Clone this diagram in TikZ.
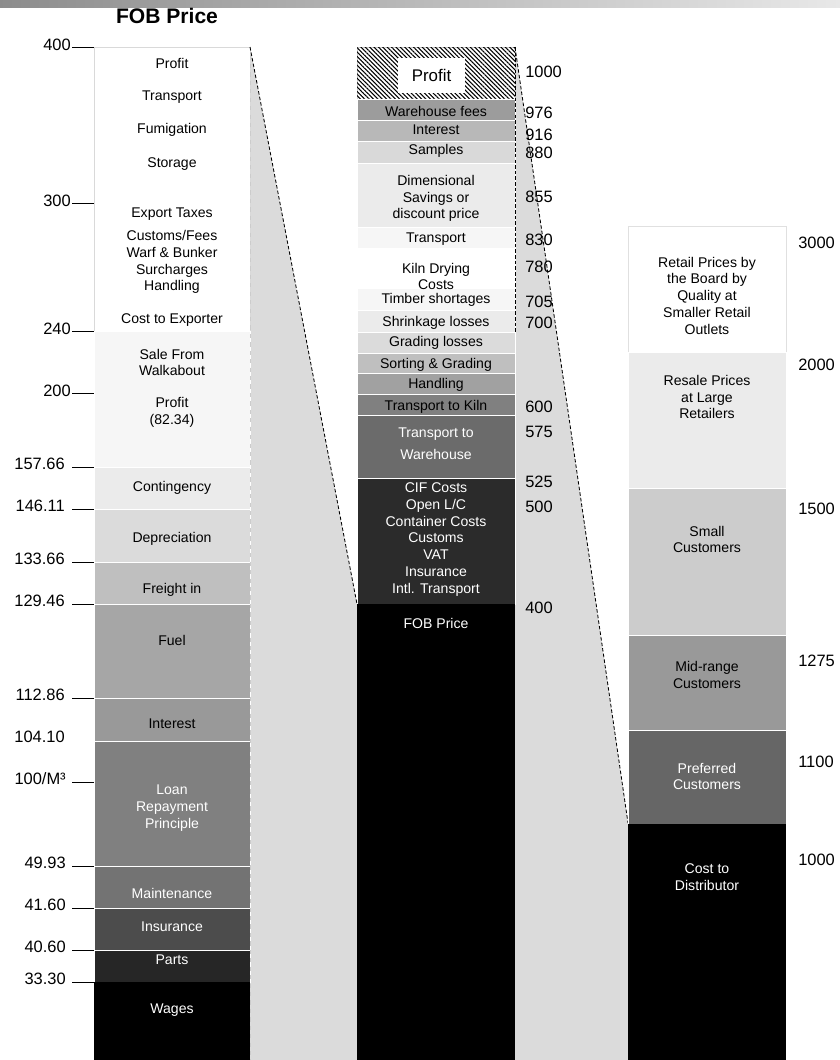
\documentclass[tikz,border=0pt]{standalone}
\usepackage{fontspec}
\setmainfont{Liberation Sans}
\usetikzlibrary{patterns.meta}
\tikzset{seg/.style={draw=white,line width=.6pt},
 lab/.style={font=\fontsize{10}{11.9}\selectfont,align=center,inner sep=0pt},
 wlab/.style={lab,text=white},
 num/.style={font=\fontsize{11.7}{14}\selectfont,inner sep=0pt},
 tickline/.style={line width=.7pt},
 slant/.style={dash pattern=on 2.5pt off 1.5pt,line width=.6pt},
 band/.style={fill=black!14}}
\begin{document}
\begin{tikzpicture}[x=0.025cm,y=-0.025cm]
\useasboundingbox (0,0) rectangle (840,1060);
\shade[left color=black!45,right color=black!9] (0,0) rectangle (840,7);
\node[font=\fontsize{15}{18}\selectfont\bfseries] (title) at (167,16) {FOB Price};
\coordinate (ltr) at (250,47);
\coordinate (mbl) at (357,604);
\coordinate (mtr) at (515,47);
\coordinate (mre) at (515,332);
\coordinate (rbl) at (628,823);
\fill[band] (ltr) -- (mbl) -- (357,1060) -- (250,1060) -- cycle;
\fill[band] (mtr) -- (rbl) -- (628,1060) -- (515,1060) -- cycle;
% left column: cost to exporter
\begin{scope}[shift={(94,0)}]
\filldraw[draw=black!15,fill=white] (0,47) rectangle (156,331);
\filldraw[seg,fill=black!3.5] (0,331) rectangle (156,467);
\filldraw[seg,fill=black!8] (0,467) rectangle (156,509);
\filldraw[seg,fill=black!14] (0,509) rectangle (156,562);
\filldraw[seg,fill=black!25] (0,562) rectangle (156,604);
\filldraw[seg,fill=black!35] (0,604) rectangle (156,698);
\filldraw[seg,fill=black!40] (0,698) rectangle (156,741);
\filldraw[seg,fill=black!50] (0,741) rectangle (156,866);
\filldraw[seg,fill=black!55] (0,866) rectangle (156,908);
\filldraw[seg,fill=black!70] (0,908) rectangle (156,950);
\filldraw[seg,fill=black!85] (0,950) rectangle (156,982);
\fill[black] (0,982) rectangle (156,1060);
\draw[dashed,black!20] (156,47) -- (156,1060);
\node[lab] (lprofit) at (78,63) {Profit};
\node[lab] (ltransport) at (78,97) {Transport};
\node[lab] (lfumigation) at (78,130) {Fumigation};
\node[lab] (lstorage) at (78,164) {Storage};
\node[lab] (ltaxes) at (78,214) {Export Taxes};
\node[lab] (lcustoms) at (78,262) {Customs/Fees\\Warf \& Bunker\\Surcharges\\Handling};
\node[lab] (lexporter) at (78,320) {Cost to Exporter};
\node[lab] (lsale) at (78,362.5) {Sale From\\Walkabout};
\node[lab] (lnet) at (78,412.5) {Profit\\(82.34)};
\node[lab] (lcontingency) at (78,488) {Contingency};
\node[lab] (ldepreciation) at (78,539) {Depreciation};
\node[lab] (lfreight) at (78,590) {Freight in};
\node[lab] (lfuel) at (78,640) {Fuel};
\node[lab] (linterest) at (78,724) {Interest};
\node[wlab] (lloan) at (78,808) {Loan\\Repayment\\Principle};
\node[wlab] (lmaintenance) at (78,893) {Maintenance};
\node[wlab] (linsurance) at (78,927) {Insurance};
\node[wlab] (lparts) at (78,960) {Parts};
\node[wlab] (lwages) at (78,1010) {Wages};
\end{scope}
% left ticks
\node[num,anchor=east] (t400) at (71,45) {400};
\node[num,anchor=east] (t300) at (71,201) {300};
\node[num,anchor=east] (t240) at (71,329) {240};
\node[num,anchor=east] (t200) at (71,391) {200};
\node[num,anchor=east] (t15766) at (65,464) {157.66};
\node[num,anchor=east] (t14611) at (65,506) {146.11};
\node[num,anchor=east] (t13366) at (65,559) {133.66};
\node[num,anchor=east] (t12946) at (65,601) {129.46};
\node[num,anchor=east] (t11286) at (65,695) {112.86};
\node[num,anchor=east] (t10410) at (65,737) {104.10};
\node[num,anchor=east] (t100) at (66,779) {100/M³};
\node[num,anchor=east] (t4993) at (66,863) {49.93};
\node[num,anchor=east] (t4160) at (66,905) {41.60};
\node[num,anchor=east] (t4060) at (66,947) {40.60};
\node[num,anchor=east] (t3330) at (66,979) {33.30};
\draw[tickline] (72,47) -- (94,47) (72,203) -- (94,203) (72,331) -- (94,331)
 (72,393) -- (94,393) (72,467) -- (94,467) (72,509) -- (94,509)
 (72,562) -- (94,562) (72,604) -- (94,604) (72,698) -- (94,698)
 (72,782) -- (94,782) (72,866) -- (94,866) (72,908) -- (94,908)
 (72,950) -- (94,950) (72,982) -- (94,982);
% middle column: cost to distributor
\begin{scope}[shift={(357,0)}]
\filldraw[draw=black!20,fill=white] (0,47) rectangle (158,99);
\fill[pattern={Lines[angle=-45,distance=2.2pt,line width=.75pt]}] (0,47) rectangle (158,99);
\node[fill=white,minimum width=1.675cm,minimum height=.875cm,inner sep=0pt,
 font=\fontsize{12}{14}\selectfont] (mprofit) at (74.5,75.5) {Profit};
\filldraw[seg,fill=black!39] (0,99) rectangle (158,120);
\filldraw[seg,fill=black!28] (0,120) rectangle (158,141);
\filldraw[seg,fill=black!15] (0,141) rectangle (158,163);
\filldraw[seg,fill=black!8] (0,163) rectangle (158,227);
\filldraw[seg,fill=black!3.5] (0,227) rectangle (158,248);
\filldraw[seg,fill=white] (0,248) rectangle (158,288);
\filldraw[seg,fill=black!3.5] (0,288) rectangle (158,310);
\filldraw[seg,fill=black!8] (0,310) rectangle (158,332);
\filldraw[seg,fill=black!14] (0,332) rectangle (158,353);
\filldraw[seg,fill=black!25] (0,353) rectangle (158,373);
\filldraw[seg,fill=black!37] (0,373) rectangle (158,394);
\filldraw[seg,fill=black!50] (0,394) rectangle (158,415);
\filldraw[seg,fill=black!58] (0,415) rectangle (158,478);
\filldraw[seg,fill=black!83] (0,478) rectangle (158,604);
\fill[black] (0,604) rectangle (158,1060);
\node[lab] (mwarehouse) at (79,111) {Warehouse fees};
\node[lab] (minterest) at (79,130) {Interest};
\node[lab] (msamples) at (79,151) {Samples};
\node[lab] (mdimension) at (79,198.5) {Dimensional\\Savings or\\discount price};
\node[lab] (mtransport) at (79,239) {Transport};
\node[lab] (mkiln) at (79,276.5) {Kiln Drying\\Costs};
\node[lab] (mtimber) at (79,300) {Timber shortages};
\node[lab] (mshrink) at (79,323) {Shrinkage losses};
\node[lab] (mgrading) at (79,343) {Grading losses};
\node[lab] (msorting) at (79,365) {Sorting \& Grading};
\node[lab] (mhandling) at (79,385) {Handling};
\node[lab] (mtokiln) at (79,407) {Transport to Kiln};
\node[wlab] (mtowarehouse) at (79,444) {Transport to\\[3.7pt]Warehouse};
\node[wlab] (mcif) at (79,539.5) {CIF Costs\\Open L/C\\Container Costs\\Customs\\VAT\\Insurance\\Intl. Transport};
\node[wlab] (mfob) at (79,623) {FOB Price};
\end{scope}
\draw[slant] (mtr) -- (mre);
\draw[slant] (ltr) -- (mbl);
\draw[slant] (mtr) -- (rbl);
% middle values
\node[num,anchor=west] (m1000) at (525,72) {1000};
\node[num,anchor=west] (m976) at (525,113) {976};
\node[num,anchor=west] (m916) at (525,135) {916};
\node[num,anchor=west] (m880) at (525,153) {880};
\node[num,anchor=west] (m855) at (525,197) {855};
\node[num,anchor=west] (m830) at (525,240) {830};
\node[num,anchor=west] (m780) at (525,267) {780};
\node[num,anchor=west] (m705) at (525,302) {705};
\node[num,anchor=west] (m700) at (525,323) {700};
\node[num,anchor=west] (m600) at (525,407) {600};
\node[num,anchor=west] (m575) at (525,432) {575};
\node[num,anchor=west] (m525) at (525,482) {525};
\node[num,anchor=west] (m500) at (525,507) {500};
\node[num,anchor=west] (m400) at (525,608) {400};
% right column: retail
\begin{scope}[shift={(628,0)}]
\filldraw[draw=black!12,fill=white] (0,226) rectangle (158,352);
\filldraw[seg,fill=black!8] (0,352) rectangle (158,488);
\filldraw[seg,fill=black!20] (0,488) rectangle (158,635);
\filldraw[seg,fill=black!40] (0,635) rectangle (158,730);
\filldraw[seg,fill=black!60] (0,730) rectangle (158,824);
\fill[black] (0,824) rectangle (158,1060);
\node[lab] (rretail) at (79,295.5) {Retail Prices by\\the Board by\\Quality at\\Smaller Retail\\Outlets};
\node[lab] (rresale) at (79,397) {Resale Prices\\at Large\\Retailers};
\node[lab] (rsmall) at (79,539.5) {Small\\Customers};
\node[lab] (rmid) at (79,675) {Mid-range\\Customers};
\node[wlab] (rpreferred) at (79,776.5) {Preferred\\Customers};
\node[wlab] (rdistributor) at (79,877) {Cost to\\Distributor};
\end{scope}
% right values
\node[num,anchor=west] (r3000) at (798,243) {3000};
\node[num,anchor=west] (r2000) at (798,365) {2000};
\node[num,anchor=west] (r1500) at (798,509) {1500};
\node[num,anchor=west] (r1275) at (798,661) {1275};
\node[num,anchor=west] (r1100) at (798,762) {1100};
\node[num,anchor=west] (r1000) at (798,860) {1000};
\end{tikzpicture}
\end{document}
